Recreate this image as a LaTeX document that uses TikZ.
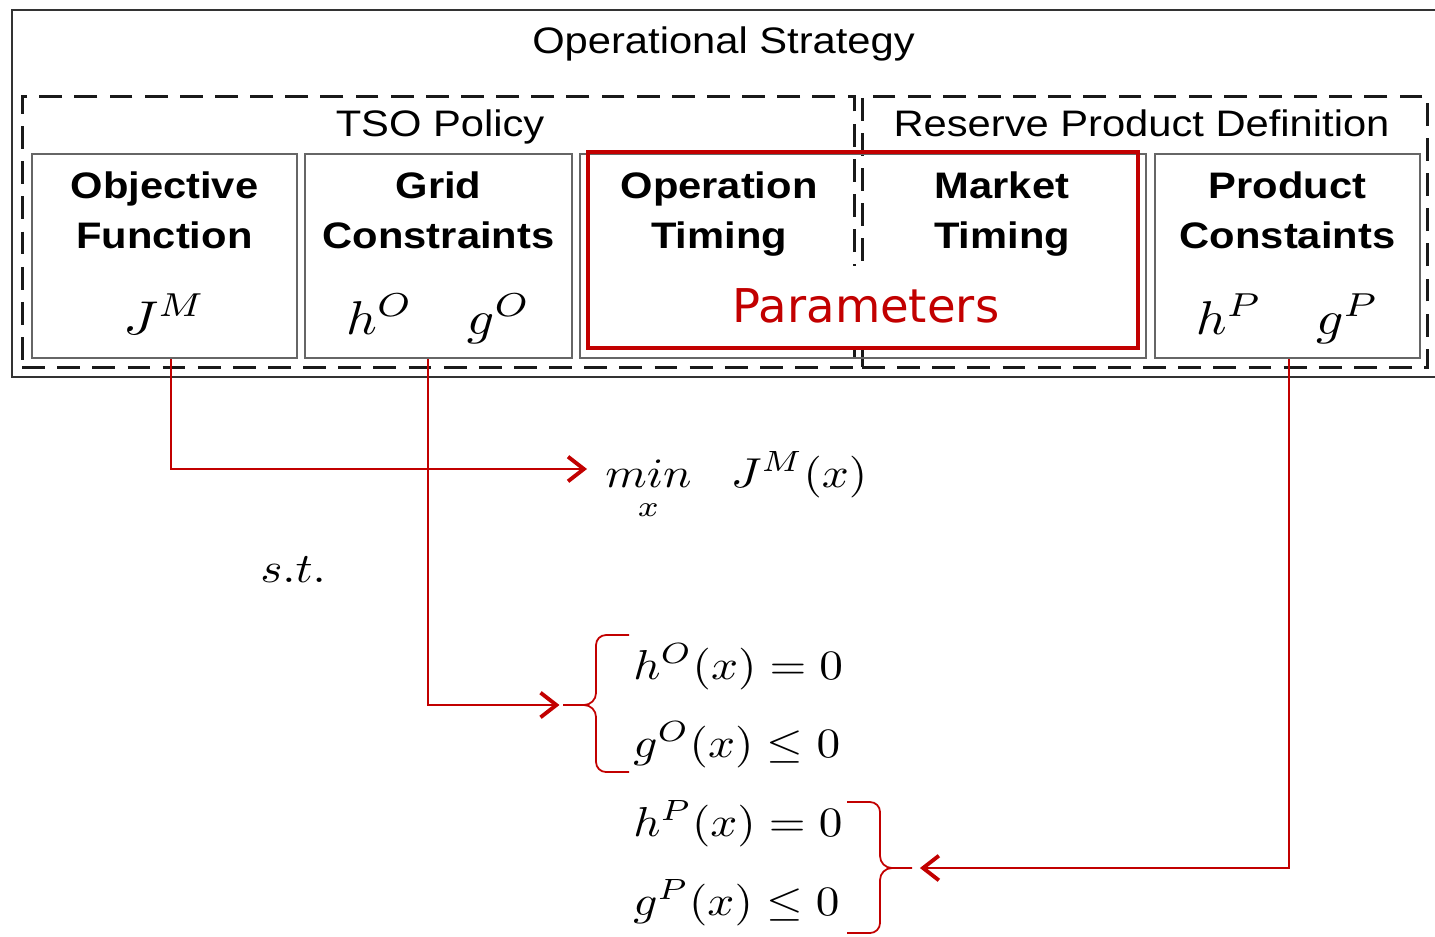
\documentclass[tikz,border=0pt]{standalone}
\usepackage{amsmath}
\usepackage{graphicx}
\usepackage{fontspec}
\newfontfamily\labelfont[FakeStretch=1.13]{Liberation Sans}
\newfontfamily\paramfont{DejaVu Sans}
\usepackage{xcolor}
\definecolor{ParamRed}{rgb}{0.76, 0.0, 0.0}
\definecolor{BoxGray}{rgb}{0.4, 0.4, 0.4}
\usetikzlibrary{calc, positioning, arrows.meta}
\newcommand{\BoxMath}[1]{\scalebox{3.05}[2.7]{$#1$}}
\newcommand{\EqMath}[1]{\scalebox{2.69}[2.38]{$#1$}}

\begin{document}
\begin{tikzpicture}[
    x=0.02cm, y=-0.02cm,
    strat_frame/.style={draw=black!80, line width=1.4pt},
    policy_box/.style={draw=black!90, line width=1.7pt, dash pattern=on 13pt off 7pt, minimum height=5.44cm, inner sep=0pt},
    block/.style={draw=BoxGray, line width=1.2pt, minimum height=4.08cm, inner sep=0pt},
    group_label/.style={font=\labelfont\fontsize{21}{25}\selectfont, anchor=base, inner sep=0pt},
    block_label/.style={font=\labelfont\bfseries\fontsize{21}{28.35}\selectfont, align=center, inner sep=0pt, outer sep=0pt},
    param_box/.style={draw=ParamRed, line width=2.2pt, minimum width=11cm, minimum height=3.92cm},
    param_label/.style={fill=white, text=ParamRed, font=\paramfont\fontsize{26.5}{30}\selectfont, minimum width=10.6cm, minimum height=1.6cm},
    eq_line/.style={anchor=base west, inner sep=0pt},
    flow_red/.style={ParamRed, line width=0.9pt, -{Straight Barb[length=9pt, width=14pt, line width=2.2pt]}},
    brace_red/.style={ParamRed, line width=1pt}
]
    \useasboundingbox (0, 0) rectangle (1435, 936);

    % 1. OPERATIONAL STRATEGY FRAME (right side runs off the page)
    \draw[strat_frame] (1460, 10) -- (12, 10) -- (12, 377) -- (1460, 377);
    \node[group_label] (opstrat) at (723.5, 54) {Operational Strategy};

    % 2. POLICY GROUPS
    \node[policy_box, minimum width=16.66cm] (tso) at (438.5, 232) {};
    \node[policy_box, minimum width=11.32cm] (rpd) at (1145, 232) {};
    \node[group_label] (tsolbl) at (440, 136) {TSO Policy};
    \node[group_label] (rpdlbl) at (1141.5, 136) {Reserve Product Definition};

    % 3. BLOCKS
    \node[block, minimum width=5.3cm] (objfn) at (164.5, 256) {};
    \node[block, minimum width=5.34cm] (gridc) at (438.5, 256) {};
    \node[block, minimum width=11.32cm] (timing) at (863, 256) {};
    \node[block, minimum width=5.3cm] (prodc) at (1287.5, 256) {};

    \node[block_label, below=0.38cm of objfn.north] (objlbl) {Objective\\Function};
    \node[block_label, below=0.38cm of gridc.north] (gridlbl) {Grid\\Constraints};
    \node[block_label, below=0.38cm of timing.north, xshift=-2.88cm] (optlbl) {Operation\\Timing};
    \node[block_label, below=0.38cm of timing.north, xshift=2.78cm] (mktlbl) {Market\\Timing};
    \node[block_label, below=0.38cm of prodc.north] (prodlbl) {Product\\Constaints};

    \node[anchor=base, inner sep=0pt] (jm) at ($(objfn.south)+(0,-25)$) {\BoxMath{J^M}};
    \node[anchor=base, inner sep=0pt] (hogo) at ($(gridc.south)+(0,-25)$) {\BoxMath{h^O\quad g^O}};
    \node[anchor=base, inner sep=0pt] (hpgp) at ($(prodc.south)+(0,-25)$) {\BoxMath{h^P\quad g^P}};

    % 4. PARAMETERS
    \node[param_label] (params) at (866, 306) {Parameters};
    \node[param_box] (parbox) at (863, 250) {};

    % 5. OPTIMISATION PROBLEM
    \node[eq_line] (minobj) at (605, 487) {\EqMath{\mathop{min}\limits_{\raisebox{-1pt}{$\scriptstyle x$}}\!\!\quad J^M(x)}};
    \node[eq_line] (st) at (260, 582) {\EqMath{s.t.}};
    \node[eq_line] (eqho) at (633, 679) {\EqMath{h^O(x) = 0}};
    \node[eq_line] (eqgo) at (633, 757) {\EqMath{g^O(x) \leq 0}};
    \node[eq_line] (eqhp) at (633, 836) {\EqMath{h^P(x) = 0}};
    \node[eq_line] (eqgp) at (633, 915) {\EqMath{g^P(x) \leq 0}};

    % braces
    \coordinate (brO) at (563, 705);
    \coordinate (brP) at (912, 868);
    \draw[brace_red] (629, 635) -- (606, 635) to[out=180, in=90] (596, 645) -- (596, 693)
        to[out=-90, in=0] (584, 705) -- (brO) -- (584, 705) to[out=0, in=90] (596, 717)
        -- (596, 762) to[out=-90, in=180] (606, 772) -- (629, 772);
    \draw[brace_red] (847, 802) -- (870, 802) to[out=0, in=90] (880, 812) -- (880, 856)
        to[out=-90, in=180] (892, 868) -- (brP) -- (892, 868) to[out=180, in=90] (880, 880)
        -- (880, 923) to[out=-90, in=0] (870, 933) -- (847, 933);

    % 6. CONNECTORS
    \coordinate (minin) at (587, 469);
    \draw[flow_red] ([xshift=0.13cm]objfn.south) |- (minin);
    \draw[flow_red, shorten >=2pt] ([xshift=-0.21cm]gridc.south) |- (brO);
    \draw[flow_red, shorten >=4.5pt] ([xshift=0.03cm]prodc.south) |- (brP);

\end{tikzpicture}
\end{document}
